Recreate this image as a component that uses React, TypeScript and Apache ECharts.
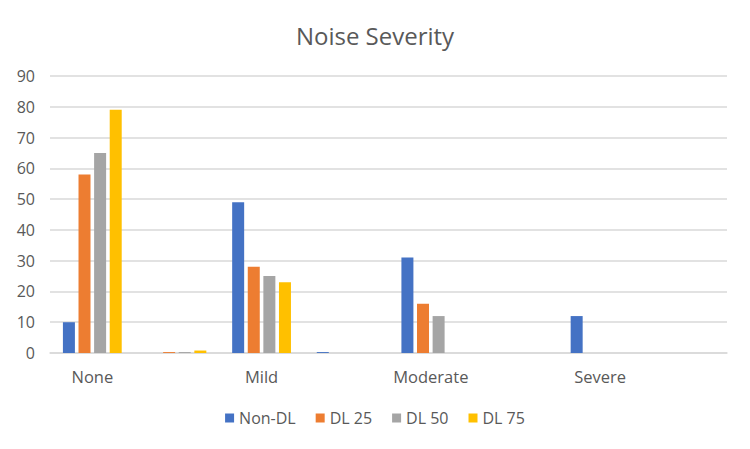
import React, { useEffect, useRef } from "react";
import * as echarts from "echarts";

const categories = ["None", "", "Mild", "", "Moderate", "", "Severe", ""];
const nonDL = [10, 0, 49, 0.3, 31, 0, 12, 0];
const dl25 = [58, 0.3, 28, 0, 16, 0, 0, 0];
const dl50 = [65, 0.3, 25, 0, 12, 0, 0, 0];
const dl75 = [79, 0.8, 23, 0, 0, 0, 0, 0];
const seriesNames = ["Non-DL", "DL 25", "DL 50", "DL 75"];
const colors = ["#4472c4", "#ed7d31", "#a5a5a5", "#ffc000"];

export default function App() {
  const ref = useRef<HTMLDivElement>(null);
  useEffect(() => {
    const chart = echarts.init(ref.current!, null, { renderer: "svg" });
    const font = "'Open Sans', 'Noto Sans', sans-serif";
    const data = [nonDL, dl25, dl50, dl75];
    chart.setOption({
      animation: false,
      color: colors,
      title: {
        text: "Noise Severity",
        left: "center",
        top: 10,
        textStyle: { fontFamily: font, fontSize: 24, fontWeight: "normal", color: "#595959" },
      },
      legend: {
        bottom: 10,
        left: "center",
        itemWidth: 9,
        itemHeight: 9,
        itemGap: 20,
        icon: "rect",
        textStyle: { fontFamily: font, fontSize: 16, color: "#595959" },
        data: seriesNames,
      },
      grid: { left: 42, right: 15, top: 68, bottom: 88 },
      xAxis: {
        type: "category",
        data: categories,
        axisLine: { lineStyle: { color: "#d9d9d9", width: 1.5 } },
        axisTick: { show: false },
        axisLabel: { interval: 0, fontFamily: font, fontSize: 16.5, color: "#595959", margin: 15 },
      },
      yAxis: {
        type: "value",
        min: 0,
        max: 90,
        interval: 10,
        axisLine: { show: false },
        axisTick: { show: false },
        splitLine: { lineStyle: { color: "#d9d9d9", width: 1.5 } },
        axisLabel: { fontFamily: font, fontSize: 16, color: "#595959", margin: 15 },
      },
      series: seriesNames.map((name, i) => ({
        name,
        type: "bar",
        data: data[i],
        barWidth: 12,
        barGap: "30%",
        itemStyle: { color: colors[i] },
      })),
    });
    return () => chart.dispose();
  }, []);
  return <div ref={ref} style={{ width: 734, height: 433 }} />;
}
